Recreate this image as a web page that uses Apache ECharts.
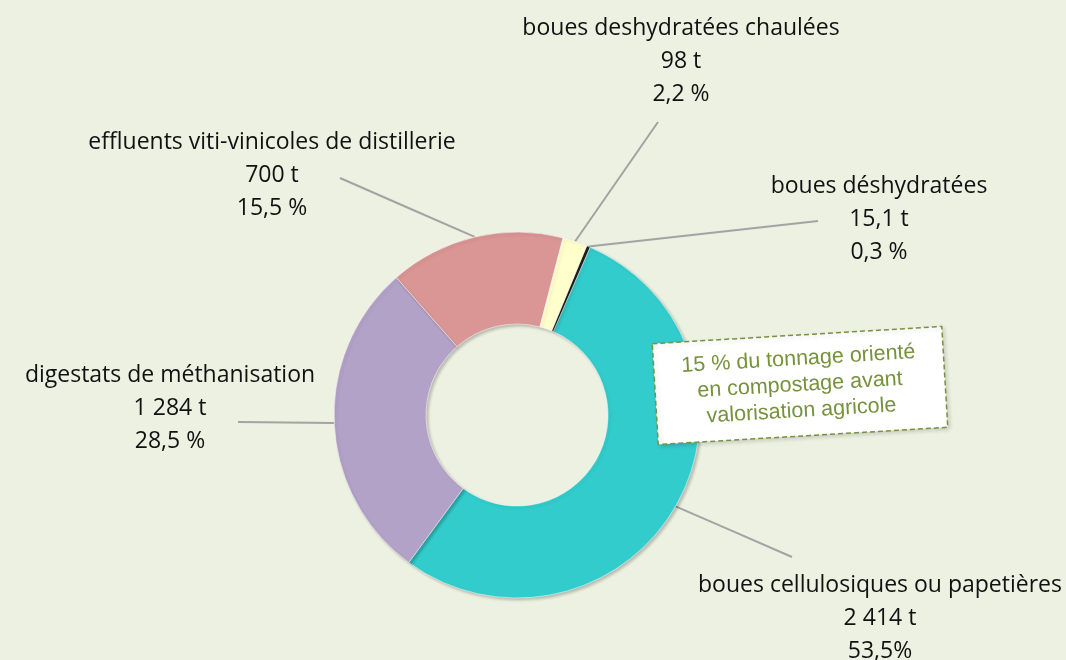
<!DOCTYPE html>
<html>
<head>
<meta charset="utf-8">
<script src="https://cdn.jsdelivr.net/npm/echarts@6/dist/echarts.min.js"></script>
<style>
  html, body { margin: 0; padding: 0; background: #edf1e2; }
  #chart { width: 1066px; height: 660px; }
</style>
</head>
<body>
<div id="chart"></div>
<script>
// données (ordre horaire à partir du haut)
var names = [
	'boues déshydratées',
	'boues cellulosiques ou papetières',
	'digestats de méthanisation',
	'effluents viti-vinicoles de distillerie',
	'boues deshydratées chaulées'
];
var tonnes = [15.1, 2414, 1284, 700, 98];
var pctLabels = ['0,3 %', '53,5%', '28,5 %', '15,5 %', '2,2 %'];
var colors = ['#262626', '#33cccc', '#b3a2c7', '#d99694', '#ffffcc'];

// position des étiquettes (centre) et bout des traits de rappel
var labelSpots = [[879, 219], [880, 618], [170, 408], [272, 175], [681, 61]];
var lineEnds = [[818, 221], [792, 557], [238, 422], [340, 178], [658, 122]];

var noteText = '15 % du tonnage orienté\nen compostage avant\nvalorisation agricole';

function fmtTonnes(v) {
	var parts = String(v).split('.');
	var ent = parts[0].replace(/\B(?=(\d{3})+(?!\d))/g, ' ');
	return ent + (parts[1] ? ',' + parts[1] : '') + ' t';
}

var pieData = names.map(function(n, i) {
	return { name: n, value: tonnes[i], itemStyle: { color: colors[i] } };
});

var option = {
	backgroundColor: '#edf1e2',
	animation: false,
	series: [{
		type: 'pie',
		center: [517, 415],
		radius: [91, 183],
		startAngle: 67.6,
		clockwise: true,
		avoidLabelOverlap: false,
		itemStyle: {
			borderColor: 'rgba(255,255,255,0.5)',
			borderWidth: 1,
			shadowColor: 'rgba(0,0,0,0.22)',
			shadowBlur: 3,
			shadowOffsetX: 2,
			shadowOffsetY: 2
		},
		label: {
			show: true,
			position: 'outside',
			fontFamily: 'Open Sans',
			fontSize: 23,
			lineHeight: 33,
			color: '#111',
			align: 'center',
			formatter: function(p) {
				return p.name + '\n' + fmtTonnes(p.value) + '\n' + pctLabels[p.dataIndex];
			}
		},
		labelLine: {
			show: true,
			length: 10,
			length2: 10,
			lineStyle: { color: '#a3a3a3', width: 2 }
		},
		labelLayout: function(params) {
			var i = params.dataIndex;
			var p0 = params.labelLinePoints[0];
			var e = lineEnds[i];
			return {
				x: labelSpots[i][0],
				y: labelSpots[i][1],
				align: 'center',
				verticalAlign: 'middle',
				labelLinePoints: [p0, [(p0[0] + e[0]) / 2, (p0[1] + e[1]) / 2], e]
			};
		},
		emphasis: { disabled: true },
		data: pieData
	}],
	graphic: [{
		type: 'group',
		x: 800,
		y: 385,
		rotation: 3.4 * Math.PI / 180,
		z: 100,
		zlevel: 1,
		children: [{
			type: 'rect',
			z: 100,
			zlevel: 1,
			shape: { x: -145, y: -50, width: 290, height: 101 },
			style: {
				fill: '#ffffff',
				stroke: '#77933c',
				lineWidth: 1.5,
				lineDash: [5, 3],
				shadowColor: 'rgba(0,0,0,0.15)',
				shadowBlur: 4,
				shadowOffsetX: 2,
				shadowOffsetY: 2
			}
		}, {
			type: 'text',
			z: 101,
			zlevel: 1,
			style: {
				text: noteText,
				x: 0,
				y: 0,
				align: 'center',
				verticalAlign: 'middle',
				fill: '#76923c',
				font: '21.5px "Liberation Sans", Arial, sans-serif',
				lineHeight: 26
			}
		}]
	}]
};

var myChart = echarts.init(document.getElementById('chart'));
myChart.setOption(option);
</script>
</body>
</html>
